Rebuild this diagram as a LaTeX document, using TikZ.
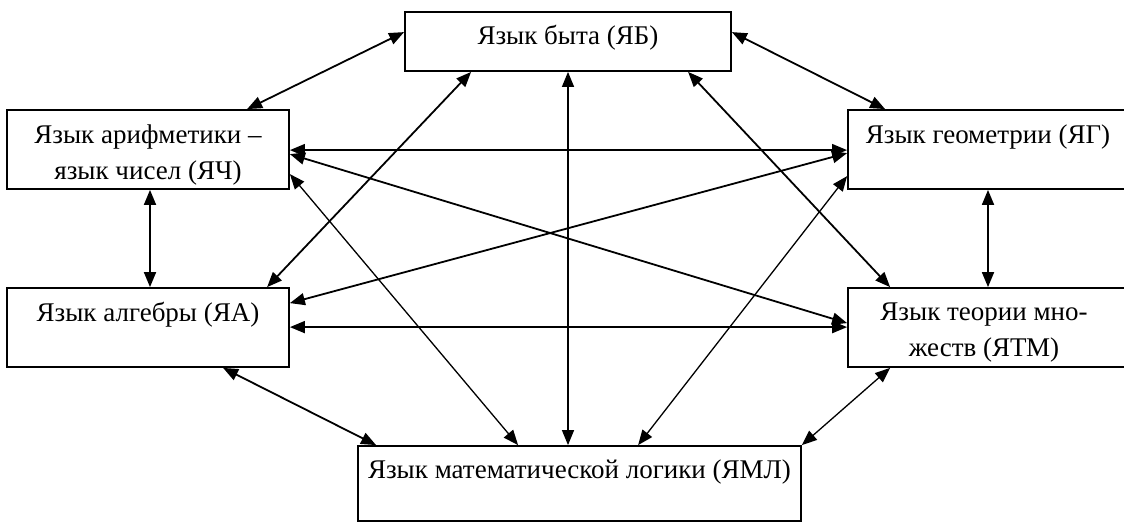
\documentclass[tikz,border=0pt]{standalone}
\usepackage{fontspec}
\setmainfont{Liberation Serif}
\usetikzlibrary{arrows.meta,calc}
\begin{document}
\begin{tikzpicture}[x=0.5pt,y=-0.5pt,
  box/.style={draw, line width=0.9pt, inner sep=0pt},
  txt/.style={font=\fontsize{13.5}{18}\selectfont, align=center, inner sep=0pt, anchor=base},
  conn/.style={{Triangle[length=7.5pt,width=6pt]}-{Triangle[length=7.5pt,width=6pt]}, line width=0.9pt},
  thinconn/.style={conn, line width=0.65pt}]
\useasboundingbox (0,0) rectangle (1124,525);
\clip (0,0) rectangle (1124,525);
% boxes
\node[box, minimum width=163pt, minimum height=29.5pt] (B) at (568,41.5) {};
\node[box, minimum width=141pt, minimum height=39.5pt] (C) at (148,149.5) {};
\node[box, minimum width=140pt, minimum height=39.5pt] (G) at (988,149.5) {};
\node[box, minimum width=141pt, minimum height=39.5pt] (A) at (148,327.5) {};
\node[box, minimum width=140pt, minimum height=39.5pt] (T) at (988,327.5) {};
\node[box, minimum width=221.5pt, minimum height=37.5pt] (M) at (579.5,483.5) {};
% texts
\node[txt] (Bt) at ($(B.north)+(0,33)$) {Язык быта (ЯБ)};
\node[txt] (Ct) at ($(C.north)+(0,70)$) {Язык арифметики –\\язык чисел (ЯЧ)};
\node[txt] (Gt) at ($(G.north)+(0,34)$) {Язык геометрии (ЯГ)};
\node[txt] (At) at ($(A.north)+(0,34)$) {Язык алгебры (ЯА)};
\node[txt] (Tt) at ($(T.north)+(-4,69)$) {Язык теории мно-\\жеств (ЯТМ)};
\node[txt] (Mt) at ($(M.north)+(0,33)$) {Язык математической логики (ЯМЛ)};
% connectors
\draw[conn] ($(B.north west)+(0,21)$) -- ($(C.north west)+(241,0)$);
\draw[conn] ($(B.north east)+(0,21)$) -- ($(G.north west)+(38,0)$);
\draw[thinconn] (B.south) -- (B.south |- M.north);
\draw[conn] ($(B.south west)+(67,0)$) -- ($(A.north west)+(261,0)$);
\draw[conn] ($(B.south west)+(284,0)$) -- ($(T.north west)+(43,0)$);
\draw[conn] ($(C.north east)+(0,41)$) -- ($(G.north west)+(0,41)$);
\draw[conn] ($(C.north east)+(0,45)$) -- ($(T.north west)+(0,36)$);
\draw[thinconn] ($(C.north east)+(0,65)$) -- ($(M.north west)+(161,0)$);
\draw[conn] ($(C.south)+(2,0)$) -- ($(A.north)+(2,0)$);
\draw[conn] ($(G.north west)+(0,44)$) -- ($(A.north east)+(0,16)$);
\draw[thinconn] ($(G.north west)+(0,67)$) -- ($(M.north west)+(281,0)$);
\draw[conn] (G.south) -- (T.north);
\draw[conn] ($(A.north east)+(0,40)$) -- ($(T.north west)+(0,40)$);
\draw[conn] ($(A.south west)+(217,0)$) -- ($(M.north west)+(19,0)$);
\draw[thinconn] ($(T.south west)+(43,0)$) -- (M.north east);
\end{tikzpicture}
\end{document}
